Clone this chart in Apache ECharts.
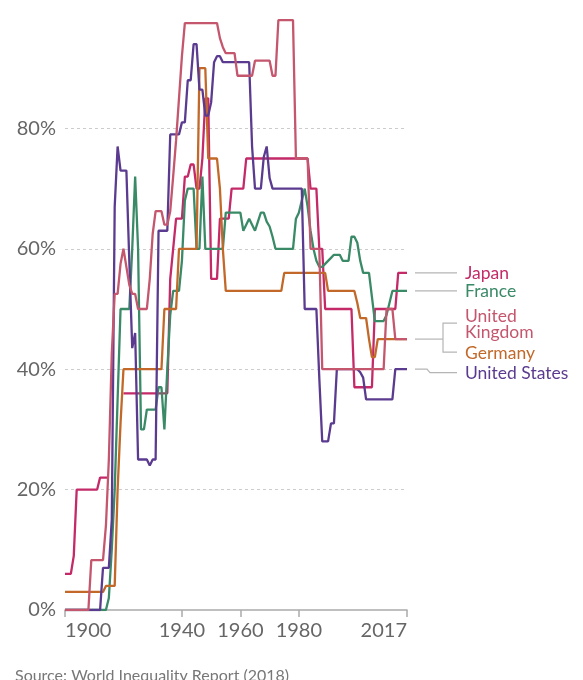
<!DOCTYPE html>
<html><head><meta charset="utf-8">
<script src="https://cdn.jsdelivr.net/npm/echarts@6/dist/echarts.min.js"></script>
<style>html,body{margin:0;padding:0;background:#fff}#c{width:583px;height:680px}</style>
</head><body><div id="c"></div>
<script>
// ---- data (top marginal income tax rate, %), one value per year 1900..2017 ----
const firstYear = 1900;
const tickYears = [1900, 1940, 1960, 1980, 2017];

const japan = [
 6,6,6,9,20,20,20,20,20,20,
 20,20,22,22,22,22,null,null,null,null,
 36,36,36,36,36,36,36,36,36,36,
 36,36,36,36,36,36,55,60,65,65,
 65,72,72,74,74,70,70,75,85,85,
 55,55,55,65,65,65,65,70,70,70,
 70,70,75,75,75,75,75,75,75,75,
 75,75,75,75,75,75,75,75,75,75,
 75,75,75,75,70,70,70,60,60,50,
 50,50,50,50,50,50,50,50,50,37,
 37,37,37,37,37,37,50,50,50,50,
 50,50,50,50,56,56,56,56];

const france = [
 0,0,0,0,0,0,0,0,0,0,
 0,0,0,0,0,2,10,20,35,50,
 50,50,50,60,72,60,30,30,33.3,33.3,
 33.3,33.3,37,37,30,40,49,53,53,53,
 58,68,70,70,70,60,60,72,60,60,
 60,60,60,60,60,66,66,66,66,66,
 66,63,64,65,64,63,64.5,66,66,64.5,
 63.7,62,60,60,60,60,60,60,60,65,
 66,68,70,67,63,60,58,57,57,57.5,
 58,58.5,59,59,59,58,58,58,62,62,
 61,58,56,56,56,52,48,48,48,48,
 49,51,53,53,53,53,53,53];

const uk = [
 0,0,0,0,0,0,0,0,0,8.3,
 8.3,8.3,8.3,8.3,14,25,42.5,52.5,52.5,57.5,
 60,57,54,52.5,52.5,50,50,50,50,55,
 62.5,66.25,66.25,66.25,64,64,66.25,72,78,85,
 92,97.5,97.5,97.5,97.5,97.5,97.5,97.5,97.5,97.5,
 97.5,97.5,97.5,95,93.5,92.5,92.5,92.5,92.5,88.75,
 88.75,88.75,88.75,88.75,88.75,91.25,91.25,91.25,91.25,91.25,
 91.25,88.75,88.75,98,98,98,98,98,98,75,
 75,75,75,75,60,60,60,60,40,40,
 40,40,40,40,40,40,40,40,40,40,
 40,40,40,40,40,40,40,40,40,40,
 50,50,50,45,45,45,45,45];

const germany = [
 3,3,3,3,3,3,3,3,3,3,
 3,3,3,3,4,4,4,4,20,31,
 40,40,40,40,40,40,40,40,40,40,
 40,40,40,40,50,50,50,50,50,60,
 60,60,60,60,60,60,90,90,90,75,
 75,75,75,70,60,53,53,53,53,53,
 53,53,53,53,53,53,53,53,53,53,
 53,53,53,53,53,56,56,56,56,56,
 56,56,56,56,56,56,56,56,56,56,
 53,53,53,53,53,53,53,53,53,53,
 51,48.5,48.5,48.5,45,42,42,45,45,45,
 45,45,45,45,45,45,45,45];

const us = [
 0,0,0,0,0,0,0,0,0,0,
 0,0,0,7,7,7,15,67,77,73,
 73,73,58,43.5,46,25,25,25,25,24,
 25,25,63,63,63,63,79,79,79,79,
 81,81,88,88,94,94,86.45,86.45,82.13,82.13,
 84.36,91,92,92,91,91,91,91,91,91,
 91,91,91,91,77,70,70,70,75.25,77,
 71.75,70,70,70,70,70,70,70,70,70,
 70,70,50,50,50,50,50,38.5,28,28,
 28,31,31,40,40,40,40,40,40,40,
 40,39.5,38.6,35,35,35,35,35,35,35,
 35,35,35,40,40,40,40,40];

const seriesDefs = [
  {name:'Japan', data:japan, color:'#c42a68'},
  {name:'France', data:france, color:'#3a8a68'},
  {name:'Germany', data:germany, color:'#c2692a'},
  {name:'United States', data:us, color:'#5b3b8f'},
  {name:'United Kingdom', data:uk, color:'#c4566e'}
];

const FONT = 'Lato, "Noto Sans", sans-serif';
const chart = echarts.init(document.getElementById('c'));

function pairs(arr){ return arr.map((v,i)=>[firstYear+i, v]); }

chart.setOption({
  animation:false,
  grid:{left:65,right:176,top:8,bottom:70,containLabel:false},
  xAxis:{type:'value',min:1900,max:2017,
    axisLine:{lineStyle:{color:'#aaa',width:1.5}},
    axisTick:{show:true,customValues:tickYears,length:7,lineStyle:{color:'#aaa',width:1.5}},
    axisLabel:{customValues:tickYears,formatter:v=>String(v),color:'#666',fontSize:20,fontFamily:FONT,margin:11,
      alignMinLabel:'left',alignMaxLabel:'right'},
    splitLine:{show:false}},
  yAxis:{type:'value',min:0,max:100,interval:20,
    axisLine:{show:false},axisTick:{show:false},
    axisLabel:{formatter:v=>v===100?'':v+'%',color:'#666',fontSize:20,fontFamily:FONT,margin:9},
    splitLine:{lineStyle:{type:[3,3],width:1,color:['rgba(0,0,0,0)','#ccc','#ccc','#ccc','#ccc','rgba(0,0,0,0)']}}},
  series:seriesDefs.map(s=>({
    name:s.name,type:'line',data:pairs(s.data),showSymbol:false,symbol:'none',
    connectNulls:false,lineStyle:{color:s.color,width:2.3},itemStyle:{color:s.color},z:2
  }))
});

// ---- end labels with leader lines ----
const gx = chart.convertToPixel({gridIndex:0},[2017,0])[0];
function yOf(v){ return chart.convertToPixel({gridIndex:0},[2017,v])[1]; }
const last = a => a[a.length-1];
const lc = '#b5b5b5';
const textX = gx + 58, l0 = gx + 8, l1 = gx + 50;
const els = [];
function line(pts){ els.push({type:'polyline',shape:{points:pts},style:{stroke:lc,lineWidth:1.2,fill:null},silent:true}); }
function text(t,y,color){ els.push({type:'text',x:textX,y:y,style:{text:t,fill:color,font:'17.5px '+FONT,verticalAlign:'middle',align:'left',lineHeight:16},silent:true}); }

const yJ = yOf(last(japan)); line([[l0,yJ],[l1,yJ]]); text('Japan',yJ,'#c42a68');
const yF = yOf(last(france)); line([[l0,yF],[l1,yF]]); text('France',yF,'#3a8a68');
const yB = yOf(last(uk)); const bx = gx + 36, yU = yB - 16, yG = yB + 13;
line([[l0,yB],[bx,yB]]); line([[l1,yU],[bx,yU],[bx,yG],[l1,yG]]);
text('United\nKingdom',yU+1,'#c4566e'); text('Germany',yG+1,'#c2692a');
const yS = yOf(last(us)); const yS2 = yS + 3.5;
line([[l0,yS],[gx+20,yS],[gx+23,yS2],[l1,yS2]]); text('United States',yS2+1,'#5b3b8f');

els.push({type:'text',left:15,top:668,style:{text:'Source: World Inequality Report (2018)',fill:'#777',font:'16px '+FONT},silent:true});
chart.setOption({graphic:els});
</script></body></html>
